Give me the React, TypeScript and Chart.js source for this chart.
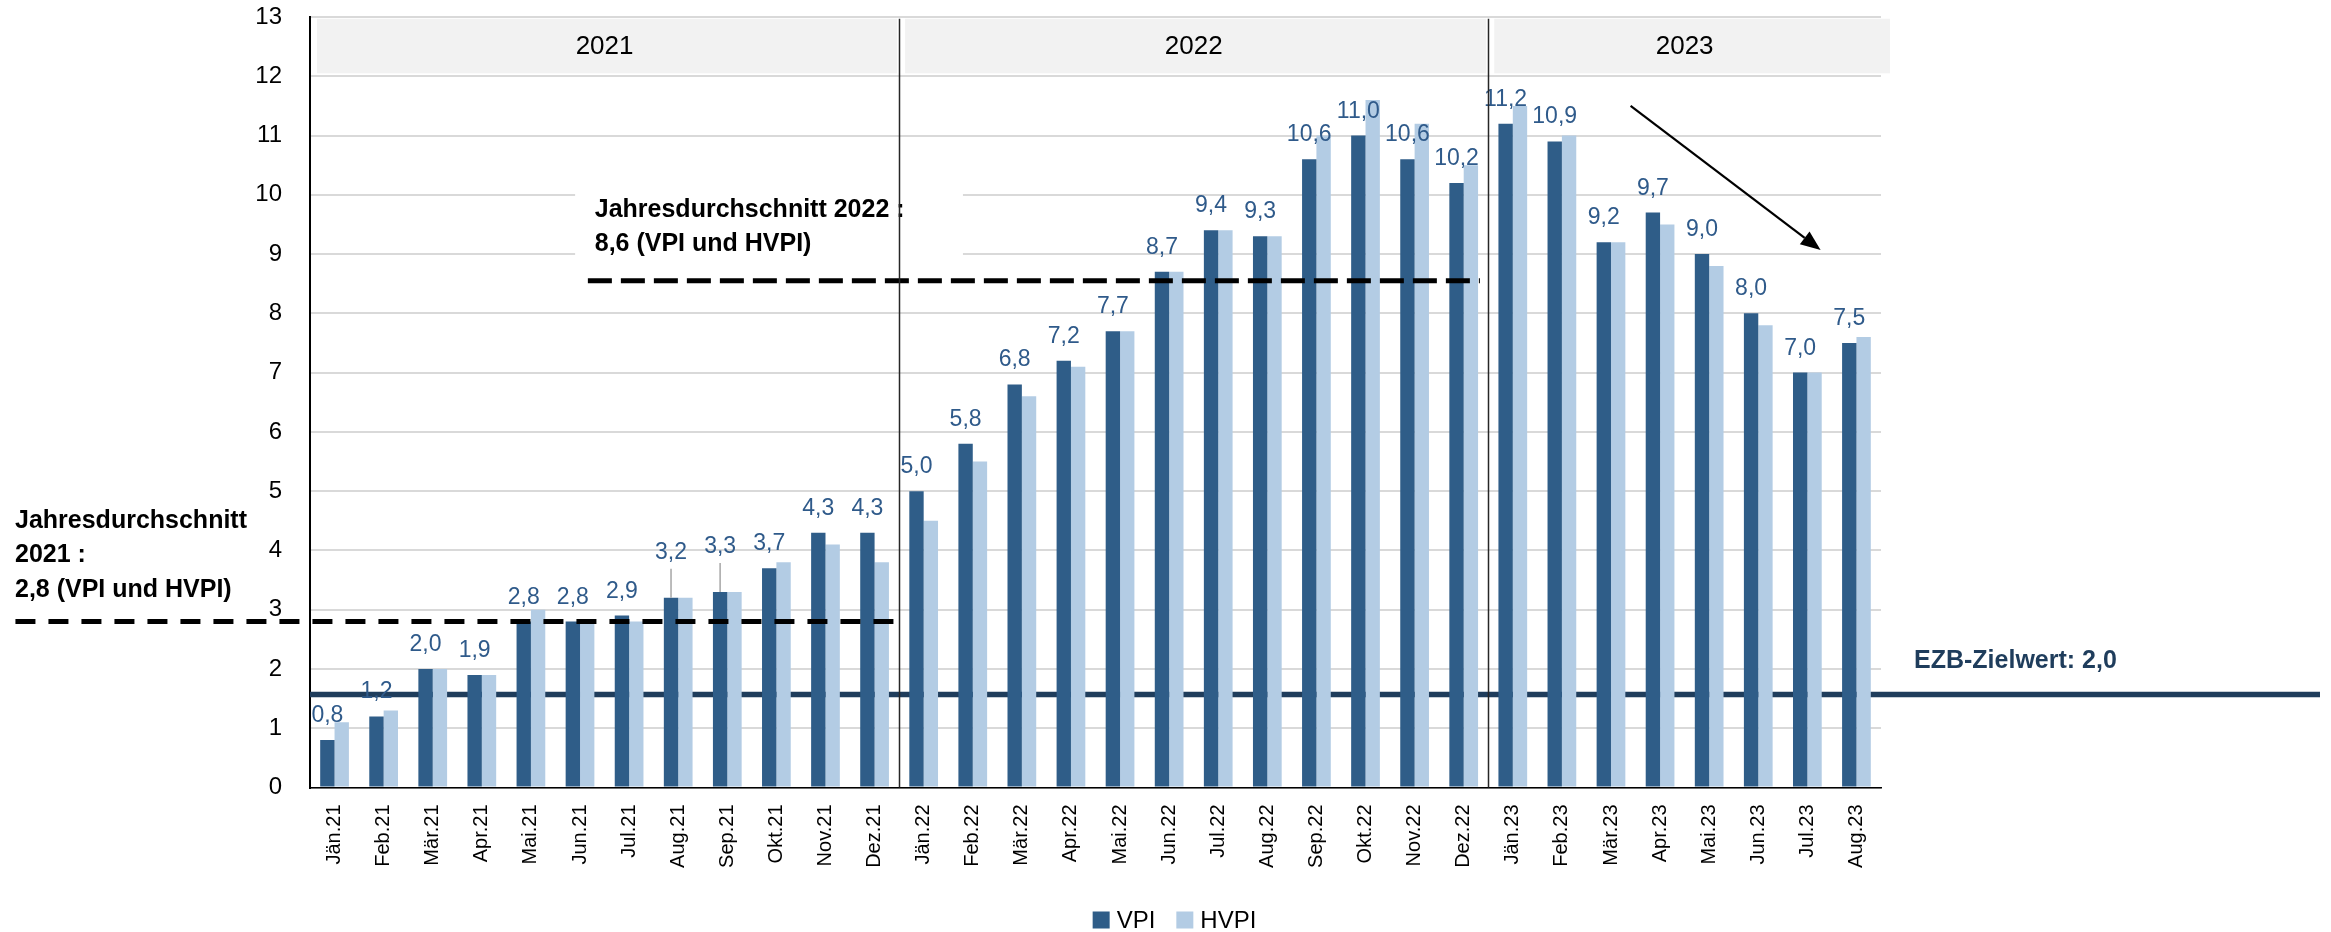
import React, { useEffect, useRef } from "react";
import { Chart, registerables } from "chart.js";

Chart.register(...registerables);

// ---------- data ----------
const categories = [
  "Jän.21", "Feb.21", "Mär.21", "Apr.21", "Mai.21", "Jun.21", "Jul.21", "Aug.21", "Sep.21", "Okt.21", "Nov.21", "Dez.21",
  "Jän.22", "Feb.22", "Mär.22", "Apr.22", "Mai.22", "Jun.22", "Jul.22", "Aug.22", "Sep.22", "Okt.22", "Nov.22", "Dez.22",
  "Jän.23", "Feb.23", "Mär.23", "Apr.23", "Mai.23", "Jun.23", "Jul.23", "Aug.23",
];
const vpi = [
  0.8, 1.2, 2.0, 1.9, 2.8, 2.8, 2.9, 3.2, 3.3, 3.7, 4.3, 4.3,
  5.0, 5.8, 6.8, 7.2, 7.7, 8.7, 9.4, 9.3, 10.6, 11.0, 10.6, 10.2,
  11.2, 10.9, 9.2, 9.7, 9.0, 8.0, 7.0, 7.5,
];
const hvpi = [
  1.1, 1.3, 2.0, 1.9, 3.0, 2.8, 2.8, 3.2, 3.3, 3.8, 4.1, 3.8,
  4.5, 5.5, 6.6, 7.1, 7.7, 8.7, 9.4, 9.3, 11.0, 11.6, 11.2, 10.5,
  11.5, 11.0, 9.2, 9.5, 8.8, 7.8, 7.0, 7.6,
];
const seriesNames = ["VPI", "HVPI"];
const years = ["2021", "2022", "2023"];
const yearFirstIndex = [0, 12, 24];
const yMin = 0;
const yMax = 13;
const yStep = 1;
const avg2021 = 2.8;
const avg2022 = 8.55; // shown as 8,6
const avg2021Text = ["Jahresdurchschnitt", "2021 :", "2,8 (VPI und HVPI)"];
const avg2022Text = ["Jahresdurchschnitt 2022 :", "8,6 (VPI und HVPI)"];
const ezbLevel = 1.57; // where the target line is drawn
const ezbText = "EZB-Zielwert: 2,0";
const liftedLabels = [7, 8]; // Aug.21, Sep.21 labels with leader lines
const arrowFrom = [26.4, 11.5]; // [category index, value]
const arrowTo = [30.27, 9.07];

// ---------- styles ----------
const FONT = "'Liberation Sans', Arial, sans-serif";
const DARK = "#2f5d88";
const LIGHT = "#b3cce4";
const LABEL = "#2f5a8a";
const NAVY = "#1f3d5c";

const fmt = (v: number) => v.toFixed(1).replace(".", ",");

const overlay = {
  id: "overlay",
  beforeDatasetsDraw(chart: any) {
    const { ctx, chartArea, scales } = chart;
    const x = scales.x;
    const y = scales.y;
    const b = (i: number) => x.getPixelForValue(i - 0.5);
    ctx.save();
    // year header bands
    const bandTop = y.getPixelForValue(12.97);
    const bandBot = y.getPixelForValue(12.05);
    ctx.fillStyle = "#f2f2f2";
    for (let k = 0; k < years.length; k++) {
      const s = yearFirstIndex[k];
      const e = k + 1 < years.length ? yearFirstIndex[k + 1] : categories.length;
      const left = b(s) + (k === 0 ? 7 : 6);
      const right = k + 1 < years.length ? b(e) - 2 : chartArea.right + 9;
      ctx.fillRect(left, bandTop, right - left, bandBot - bandTop);
    }
    // white text box behind 2022 annotation
    ctx.fillStyle = "#ffffff";
    const bx1 = x.getPixelForValue(4.9);
    const bx2 = x.getPixelForValue(12.8);
    const by1 = y.getPixelForValue(10.34);
    const by2 = y.getPixelForValue(8.77);
    ctx.fillRect(bx1, by1, bx2 - bx1, by2 - by1);
    // EZB line (behind bars)
    const ey = y.getPixelForValue(ezbLevel);
    ctx.strokeStyle = NAVY;
    ctx.lineWidth = 5.5;
    ctx.beginPath();
    ctx.moveTo(chartArea.left, ey);
    ctx.lineTo(chart.width - 11, ey);
    ctx.stroke();
    ctx.restore();
  },
  afterDatasetsDraw(chart: any) {
    const { ctx, chartArea, scales } = chart;
    const x = scales.x;
    const y = scales.y;
    const b = (i: number) => x.getPixelForValue(i - 0.5);
    ctx.save();

    // data labels (VPI)
    const meta = chart.getDatasetMeta(0);
    ctx.font = `23px ${FONT}`;
    ctx.textAlign = "center";
    ctx.textBaseline = "alphabetic";
    meta.data.forEach((bar: any, i: number) => {
      const lifted = liftedLabels.includes(i);
      const lift = lifted ? 21 : 0;
      const base = bar.y - 18 - lift;
      if (lifted) {
        ctx.strokeStyle = "#a6a6a6";
        ctx.lineWidth = 1.5;
        ctx.beginPath();
        ctx.moveTo(bar.x, base + 10);
        ctx.lineTo(bar.x, bar.y);
        ctx.stroke();
      }
      ctx.fillStyle = LABEL;
      ctx.fillText(fmt(vpi[i]), bar.x, base);
    });

    // year labels
    ctx.fillStyle = "#000";
    ctx.font = `26px ${FONT}`;
    ctx.textBaseline = "middle";
    const yMid = y.getPixelForValue(12.5);
    for (let k = 0; k < years.length; k++) {
      const s = yearFirstIndex[k];
      const e = k + 1 < years.length ? yearFirstIndex[k + 1] : categories.length;
      ctx.fillText(years[k], (b(s) + b(e)) / 2, yMid);
    }

    // dashed averages
    ctx.strokeStyle = "#000";
    ctx.lineWidth = 5;
    ctx.setLineDash([20, 13]);
    const a1 = y.getPixelForValue(avg2021);
    ctx.beginPath();
    ctx.moveTo(x.getPixelForValue(-6.5), a1);
    ctx.lineTo(x.getPixelForValue(11.56), a1);
    ctx.stroke();
    ctx.setLineDash([24, 9]);
    const a2 = y.getPixelForValue(avg2022);
    ctx.beginPath();
    ctx.moveTo(x.getPixelForValue(5.16), a2);
    ctx.lineTo(x.getPixelForValue(23.33), a2);
    ctx.stroke();
    ctx.setLineDash([]);

    // annotation texts
    ctx.fillStyle = "#000";
    ctx.font = `bold 25px ${FONT}`;
    ctx.textAlign = "left";
    ctx.textBaseline = "alphabetic";
    const lh = 34.5;
    avg2021Text.forEach((t, k) => {
      ctx.fillText(t, 15, a1 - 25 - lh * (avg2021Text.length - 1 - k));
    });
    const t2x = x.getPixelForValue(5.3);
    const t2y = y.getPixelForValue(9.63);
    avg2022Text.forEach((t, k) => {
      ctx.fillText(t, t2x, t2y + 34 * k);
    });

    // year separators
    ctx.strokeStyle = "#262626";
    ctx.lineWidth = 1.5;
    const sepTop = y.getPixelForValue(12.97);
    [yearFirstIndex[1], yearFirstIndex[2]].forEach((i) => {
      const px = Math.round(b(i)) + 0.5;
      ctx.beginPath();
      ctx.moveTo(px, sepTop);
      ctx.lineTo(px, chartArea.bottom);
      ctx.stroke();
    });

    // arrow
    const ax1 = x.getPixelForValue(arrowFrom[0]);
    const ay1 = y.getPixelForValue(arrowFrom[1]);
    const ax2 = x.getPixelForValue(arrowTo[0]);
    const ay2 = y.getPixelForValue(arrowTo[1]);
    const ang = Math.atan2(ay2 - ay1, ax2 - ax1);
    const headLen = 20;
    const headW = 8;
    const hx = ax2 - headLen * Math.cos(ang);
    const hy = ay2 - headLen * Math.sin(ang);
    ctx.strokeStyle = "#000";
    ctx.lineWidth = 2.2;
    ctx.beginPath();
    ctx.moveTo(ax1, ay1);
    ctx.lineTo(hx, hy);
    ctx.stroke();
    ctx.fillStyle = "#000";
    ctx.beginPath();
    ctx.moveTo(ax2, ay2);
    ctx.lineTo(hx + headW * Math.sin(ang), hy - headW * Math.cos(ang));
    ctx.lineTo(hx - headW * Math.sin(ang), hy + headW * Math.cos(ang));
    ctx.closePath();
    ctx.fill();

    // EZB text
    ctx.fillStyle = NAVY;
    ctx.font = `bold 25px ${FONT}`;
    ctx.textAlign = "left";
    ctx.fillText(ezbText, chartArea.right + 33, y.getPixelForValue(ezbLevel) - 26);

    // legend
    ctx.font = `24px ${FONT}`;
    ctx.textBaseline = "middle";
    const colors = [DARK, LIGHT];
    const sq = 17;
    const gapIn = 7;
    const gapOut = 21;
    const widths = seriesNames.map((n) => ctx.measureText(n).width);
    const total = widths.reduce((s, w) => s + sq + gapIn + w, 0) + gapOut * (seriesNames.length - 1);
    let lx = chart.width / 2 + 9 - total / 2;
    const ly = 920;
    seriesNames.forEach((n, k) => {
      ctx.fillStyle = colors[k];
      ctx.fillRect(lx, ly - sq / 2, sq, sq);
      ctx.fillStyle = "#000";
      ctx.fillText(n, lx + sq + gapIn, ly + 1);
      lx += sq + gapIn + widths[k] + gapOut;
    });

    ctx.restore();
  },
};

export default function App() {
  const ref = useRef<HTMLCanvasElement | null>(null);
  useEffect(() => {
    document.body.style.margin = "0";
    document.body.style.overflow = "hidden";
    const canvas = ref.current;
    if (!canvas) return;
    const chart = new Chart(canvas, {
      type: "bar",
      data: {
        labels: categories,
        datasets: [
          { label: seriesNames[0], data: vpi, backgroundColor: DARK, borderWidth: 0 },
          { label: seriesNames[1], data: hvpi, backgroundColor: LIGHT, borderWidth: 0 },
        ],
      },
      options: {
        responsive: false,
        animation: false,
        devicePixelRatio: 1,
        datasets: { bar: { categoryPercentage: 0.585, barPercentage: 1.0 } },
        layout: { padding: { left: 0, right: 450, top: 17, bottom: 0 } },
        plugins: { legend: { display: false }, tooltip: { enabled: false } },
        scales: {
          x: {
            grid: { display: false, drawTicks: false },
            border: { display: true, color: "#000", width: 1.5 },
            ticks: {
              autoSkip: false,
              minRotation: 90,
              maxRotation: 90,
              padding: 17,
              color: "#000",
              font: { family: FONT, size: 20 },
            },
            afterFit: (s: any) => {
              s.height = 144.5;
            },
          },
          y: {
            min: yMin,
            max: yMax,
            ticks: { stepSize: yStep, padding: 0, color: "#000", font: { family: FONT, size: 24 } },
            grid: {
              color: "#d9d9d9",
              lineWidth: 2,
              drawTicks: true,
              tickLength: 28,
              tickColor: "rgba(0,0,0,0)",
            },
            border: { color: "#000", width: 2 },
            afterFit: (s: any) => {
              s.width = 310;
            },
          },
        },
      },
      plugins: [overlay],
    } as any);
    return () => chart.destroy();
  }, []);
  return (
    <div style={{ width: 2331, height: 932, background: "#fff" }}>
      <canvas ref={ref} width={2331} height={932} style={{ display: "block", width: 2331, height: 932 }} />
    </div>
  );
}
